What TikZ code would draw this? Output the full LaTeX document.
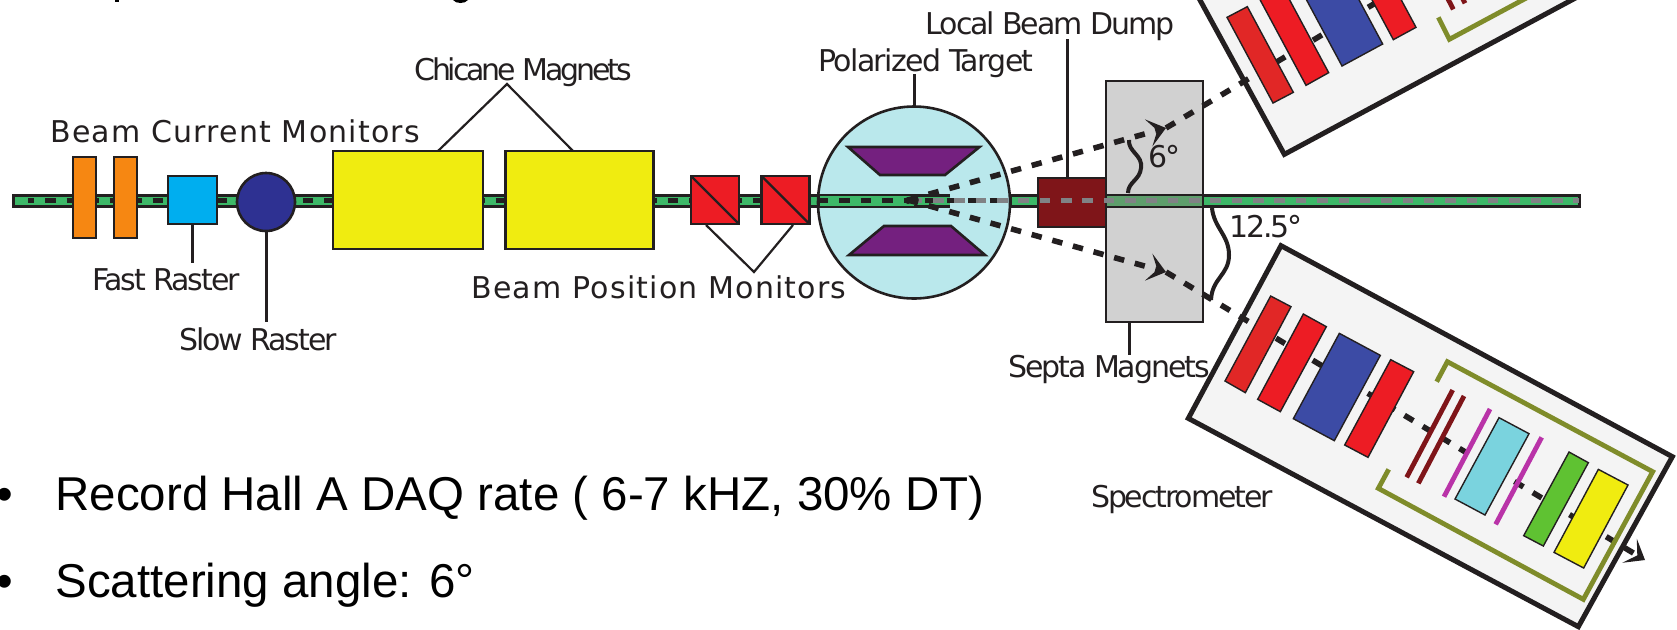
\documentclass[tikz,border=0pt]{standalone}
\usepackage{fontspec}
\setmainfont{Liberation Sans}
\newfontfamily\tightfont[LetterSpace=-7]{DejaVu Sans}
\newfontfamily\tighterfont[LetterSpace=-10.5]{DejaVu Sans}
\newfontfamily\looserfont[LetterSpace=-5.5]{DejaVu Sans}
\newfontfamily\widefont[LetterSpace=4]{DejaVu Sans}
\usetikzlibrary{arrows.meta, positioning, calc}
\definecolor{Ink}{HTML}{231F20}
\definecolor{Pipe}{HTML}{3DB868}
\definecolor{PipeDim}{HTML}{5E9E6C}
\definecolor{Ash}{HTML}{808285}
\definecolor{Current}{HTML}{F68712}
\definecolor{FastBlue}{HTML}{00AEEF}
\definecolor{SlowBlue}{HTML}{2E3192}
\definecolor{Chicane}{HTML}{F0EC10}
\definecolor{Position}{HTML}{ED1C24}
\definecolor{Cell}{HTML}{BAE8EC}
\definecolor{Coil}{HTML}{74207F}
\definecolor{Dump}{HTML}{7F1519}
\definecolor{Septa}{HTML}{D1D1D1}
\definecolor{Shell}{HTML}{F4F4F4}
\definecolor{Quad}{HTML}{E12726}
\definecolor{Dipole}{HTML}{3C4BA5}
\definecolor{Shield}{HTML}{7F8C2A}
\definecolor{Chamber}{HTML}{7F1519}
\definecolor{Scint}{HTML}{B933A8}
\definecolor{Cerenkov}{HTML}{7AD3DE}
\definecolor{Leadglass}{HTML}{5FC232}

\begin{document}
\begin{tikzpicture}[
  x=0.5pt, y=-0.5pt,
  device/.style={
    draw=Ink,
    line width=1.3pt,
    outer sep=0pt,
    inner sep=0pt
  },
  label/.style={
    text=Ink,
    inner sep=0pt,
    font=\tightfont\fontsize{15}{18}\selectfont
  },
  tightlabel/.style={
    text=Ink,
    inner sep=0pt,
    font=\tighterfont\fontsize{15}{18}\selectfont
  },
  looselabel/.style={
    text=Ink,
    inner sep=0pt,
    font=\looserfont\fontsize{15}{18}\selectfont
  },
  widelabel/.style={
    text=Ink,
    inner sep=0pt,
    font=\widefont\fontsize{15}{18}\selectfont
  },
  bullet/.style={
    anchor=base west,
    inner sep=0pt,
    text=black,
    font=\fontsize{23.75}{28}\selectfont
  },
  stem/.style={draw=Ink, line width=1.5pt},
  leader/.style={draw=Ink, line width=1.1pt},
  squiggle/.style={draw=Ink, line width=2pt},
  pipe/.style={draw=Ink, line width=1.5pt, fill=Pipe},
  inkdash/.style={draw=Ink, line width=2.5pt, dash pattern=on 5.2pt off 5.53pt},
  ashdash/.style={draw=Ash, line width=2.5pt, dash pattern=on 5.3pt off 5.37pt},
  scatterline/.style={draw=Ink, line width=2.8pt, dash pattern=on 5.2pt off 5.5pt},
  crescent/.style={-{Stealth[length=9pt,width=14pt,inset=4.5pt]}},
  shellbox/.style={draw=Ink, line width=2.5pt, fill=Shell},
  slab/.style={draw=Ink, line width=0.7pt},
  foil/.style={line width=2.4pt},
  shieldline/.style={draw=Shield, line width=2.4pt}
]

\clip (0,0) rectangle (1677,629);
\fill[white] (0,0) rectangle (1677,629);

% beam line
\draw[pipe] (13,195) rectangle (1579,206.5);
\draw[inkdash, dash phase=2.1pt] (28,200.5) -- (950,200.5);

% upstream devices
\node[device, fill=Current, minimum width=11.5pt, minimum height=40.5pt] (bcmA) at (84.5,197.5) {};
\node[device, fill=Current, minimum width=11.5pt, minimum height=40.5pt] (bcmB) at (125.5,197.5) {};
\node[device, fill=FastBlue, minimum width=24.5pt, minimum height=24pt] (fastraster) at (192.5,200) {};
\node[device, fill=SlowBlue, circle, minimum size=29pt] (slowraster) at (266,202) {};
\node[device, fill=Chicane, minimum width=75pt, minimum height=49pt] (chicaneA) at (408,200) {};
\node[device, fill=Chicane, minimum width=74pt, minimum height=49pt] (chicaneB) at (579.5,200) {};
\node[device, fill=Position, minimum width=24pt, minimum height=24pt] (bpmA) at (715,200) {};
\node[device, fill=Position, minimum width=24pt, minimum height=24pt] (bpmB) at (785.5,200) {};
\draw[leader] (bpmA.north west) -- (bpmA.south east);
\draw[leader] (bpmB.north west) -- (bpmB.south east);

% target
\node[device, fill=Cell, circle, minimum size=96pt] (target) at (914,202.5) {};
\draw[device, fill=Coil] (848,147) -- (979.5,147) -- (945,175) -- (880,175) -- cycle;
\draw[device, fill=Coil] (884,226) -- (951,226) -- (985,255) -- (849,255) -- cycle;
\draw[pipe] (950,195) -- (818,195) -- (818,206.5) -- (950,206.5);
\fill[Pipe] (820,196) rectangle (914,205.5);
\draw[inkdash] (818,200.5) -- (998,200.5);
\fill[Ink] (908,200.5) circle (3.5);

% downstream pipe and magnets
\node[device, fill=Septa, minimum width=48.5pt, minimum height=120.5pt] (septa) at (1154.5,201.5) {};
\draw[pipe] (1010,195) rectangle (1579,206.5);
\fill[PipeDim] (1107,196) rectangle (1202,205.5);
\draw[Ink, line width=1.3pt] (1203,194) -- (1203,207);
\node[device, fill=Dump, minimum width=34pt, minimum height=24.5pt] (dump) at (1072,202.5) {};
\draw[ashdash, dash phase=2.65pt] (917,200.5) -- (1579,200.5);

% scattered lines
\coordinate (vertex) at (908,200);
\coordinate (tipup) at (1166,128);
\coordinate (tipdown) at (1166,272);
\draw[scatterline, crescent] (vertex) -- (tipup);
\draw[scatterline, crescent] (vertex) -- (tipdown);

% lower spectrometer
\begin{scope}[shift={(1170,230)}, x=0.16667pt, y=-0.16667pt]
  \draw[shellbox] (333,47) -- (1507,680) -- (1225,1190) -- (55,565) -- cycle;
  \coordinate (lowend) at (1425,990);
  \draw[scatterline, crescent] (tipdown) -- (lowend);
  \draw[slab, fill=Quad] (302,198) -- (363,230) -- (226,488) -- (165,453) -- cycle;
  \draw[slab, fill=Position] (400,252) -- (469,290) -- (331,545) -- (263,508) -- cycle;
  \draw[slab, fill=Dipole] (508,310) -- (631,376) -- (493,632) -- (370,566) -- cycle;
  \draw[slab, fill=Position] (662,389) -- (731,425) -- (594,682) -- (524,645) -- cycle;
  \draw[shieldline] (800,455) -- (832,395) -- (1448,725) -- (1240,1108) -- (625,775) -- (656,718);
  \draw[foil, Chamber] (848,480) -- (710,742);
  \draw[foil, Chamber] (882,498) -- (745,760);
  \draw[foil, Scint] (960,537) -- (822,800);
  \draw[foil, Scint] (1115,622) -- (977,883);
  \draw[slab, fill=Cerenkov] (987,563) -- (1077,611) -- (945,855) -- (855,807) -- cycle;
  \draw[slab, fill=Leadglass] (1197,666) -- (1255,698) -- (1120,948) -- (1061,917) -- cycle;
  \draw[slab, fill=Chicane] (1285,718) -- (1374,765) -- (1241,1014) -- (1152,967) -- cycle;
\end{scope}

% upper spectrometer
\begin{scope}[shift={(1170,0)}, x=0.16667pt, y=-0.16667pt]
  \draw[shellbox] (343,463) -- (1464,-139) -- (1084,-834) -- (-37,-232) -- cycle;
  \coordinate (highend) at (1050,-250);
  \draw[scatterline] (tipup) -- (highend);
  \draw[slab, fill=Quad] (171,52) -- (232,20) -- (370,277) -- (309,309) -- cycle;
  \draw[slab, fill=Position] (408,256) -- (476,218) -- (338,-39) -- (270,-1) -- cycle;
  \draw[slab, fill=Dipole] (516,198) -- (638,132) -- (500,-125) -- (378,-59) -- cycle;
  \draw[slab, fill=Position] (670,119) -- (738,82) -- (600,-175) -- (532,-138) -- cycle;
  \draw[shieldline] (805,52) -- (838,118) -- (1300,-130);
  \draw[foil, Chamber] (850,28) -- (820,-30);
  \draw[foil, Chamber] (885,10) -- (860,-40);
\end{scope}

% labels
\node[widelabel, anchor=west] (bcmlabel) at (50,131) {Beam Current Monitors};
\node[label] (fastlabel) at (166,280) {Fast Raster};
\node[label] (slowlabel) at (258,339) {Slow Raster};
\node[tightlabel] (chicanelabel) at (523,72) {Chicane Magnets};
\node[widelabel] (bpmlabel) at (659,287) {Beam Position Monitors};
\node[looselabel] (targetlabel) at (926,63) {Polarized Target};
\node[label] (dumplabel) at (1050,26) {Local Beam Dump};
\node[label] (septalabel) at (1109,369) {Septa Magnets};
\node[label] (speclabel) at (1182,499) {Spectrometer};
\node[label] (smallangle) at (1164,157) {6°};
\node[label] (largeangle) at (1266,227) {12.5°};

% leaders
\draw[stem] (fastraster.south) -- ++(0,39);
\draw[stem] (slowraster.south) -- ++(0,91);
\coordinate (chicanetop) at (507,84);
\draw[leader] (chicaneA.north) ++(30,0) -- (chicanetop) -- ($(chicaneB.north)+(-6.5,0)$);
\coordinate (bpmtip) at (754,272);
\draw[leader] (706,225) -- (bpmtip) -- (793,225);
\draw[stem] (target.north) -- ++(0,-33);
\draw[stem] (dump.north) ++(-5,0) -- ++(0,-139);
\draw[stem] (septa.south) ++(-25.5,0) -- ++(0,33);
\draw[squiggle] (1129,140) .. controls (1128,152) and (1143,155) .. (1141,168) .. controls (1140,180) and (1128,182) .. (1128,193);
\draw[squiggle] (1212,208) .. controls (1214,228) and (1229,235) .. (1229,255) .. controls (1229,275) and (1212,278) .. (1211,300);

% text lines
\fill[black] (115,0) rectangle (119,2);
\fill[black] (453,0) .. controls (456,4) and (465,4) .. (468,0) -- cycle;
\node[bullet] (recordline) at (55,510) {Record Hall A DAQ rate ( 6-7 kHZ, 30\% DT)};
\node[bullet] (angleline) at (55,597) {Scattering angle: 6°};
\node[bullet] (recordmark) at (-4,510) {•};
\node[bullet] (anglemark) at (-4,597) {•};
\end{tikzpicture}
\end{document}
